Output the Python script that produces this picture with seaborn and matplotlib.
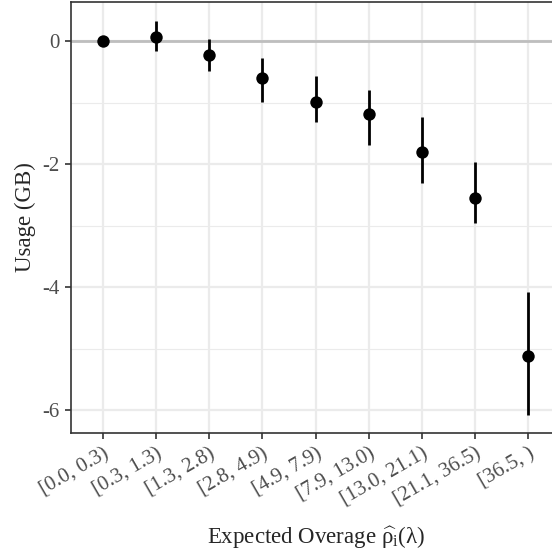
import numpy as np
import pandas as pd
import matplotlib
matplotlib.use("Agg")
import matplotlib.pyplot as plt
import seaborn as sns

# Dados
faixas = ['[0.0, 0.3)', '[0.3, 1.3)', '[1.3, 2.8)', '[2.8, 4.9)', '[4.9, 7.9)',
          '[7.9, 13.0)', '[13.0, 21.1)', '[21.1, 36.5)', '[36.5, )']
uso = [0.0, 0.07, -0.23, -0.60, -0.99, -1.19, -1.80, -2.55, -5.12]
uso_min = [0.0, -0.16, -0.49, -0.99, -1.32, -1.69, -2.30, -2.95, -6.07]
uso_max = [0.0, 0.33, 0.03, -0.28, -0.57, -0.79, -1.23, -1.96, -4.08]

df = pd.DataFrame({'faixa': faixas, 'uso': uso, 'lo': uso_min, 'hi': uso_max})

sns.set_theme(style="whitegrid")
plt.rcParams['font.family'] = ['Liberation Serif', 'DejaVu Serif']
plt.rcParams['mathtext.fontset'] = 'custom'
plt.rcParams['mathtext.rm'] = 'Liberation Serif'
plt.rcParams['mathtext.it'] = 'Liberation Serif'

fig = plt.figure(figsize=(5.52, 5.50), dpi=100)
ax = fig.add_axes([71 / 552, 1 - 433 / 550, (560 - 71) / 552, 431 / 550])

# linha de referência em zero
ax.axhline(0, color='#BEBEBE', lw=2.0, zorder=1)

x = np.arange(len(df))
ax.vlines(x, df['lo'], df['hi'], color='black', lw=2.0, zorder=3)
sns.scatterplot(data=df, x='faixa', y='uso', ax=ax, color='black', s=80,
                edgecolor='black', linewidth=0, zorder=4)

ax.set_xlim(-0.6, 8.6)
ax.set_ylim(-6.37, 0.634)
ax.set_yticks([0, -2, -4, -6])
ax.set_yticklabels(['0', '-2', '-4', '-6'])
ax.set_yticks([-1, -3, -5], minor=True)

ax.grid(True, which='major', color='#EBEBEB', lw=1.6)
ax.grid(True, which='minor', axis='y', color='#EBEBEB', lw=0.8)
ax.set_axisbelow(True)
for s in ax.spines.values():
    s.set_color('#333333')
    s.set_linewidth(1.2)

ax.tick_params(axis='both', which='major', length=4, width=1.2, color='#333333',
               labelsize=15, labelcolor='#4D4D4D', pad=4)
ax.tick_params(axis='y', which='minor', length=0)
ax.tick_params(bottom=True, left=True)
plt.setp(ax.get_xticklabels(), rotation=30, ha='right', rotation_mode='anchor')

ax.set_xlabel(r'Expected Overage $\widehat{\rho}_{\mathrm{i}}(\lambda)$', fontsize=16.5, labelpad=11)
ax.set_ylabel('Usage (GB)', fontsize=16.5, labelpad=5)

fig.savefig('out.png', dpi=100)
